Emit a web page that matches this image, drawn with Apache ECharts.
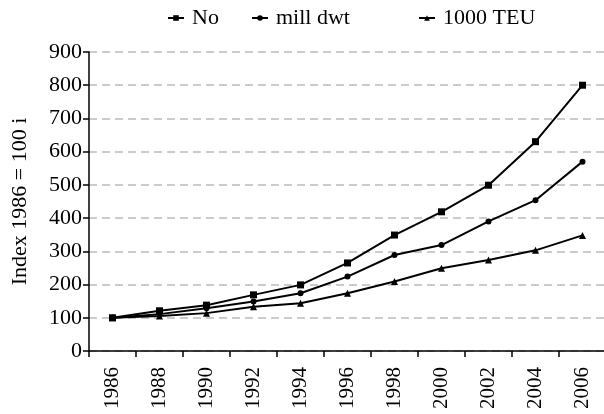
<!DOCTYPE html>
<html><head><meta charset="utf-8">
<script src="https://cdn.jsdelivr.net/npm/echarts@6/dist/echarts.min.js"></script>
<style>html,body{margin:0;padding:0;background:#fff}#c{width:604px;height:414px}</style>
</head><body><div id="c"></div>
<script>
const years = ['1986','1988','1990','1992','1994','1996','1998','2000','2002','2004','2006'];
const seriesNames = ['No','mill dwt','1000 TEU'];
const noValues = [100,121,138,169,199,265,349,419,499,630,800];
const dwtValues = [100,111,129,149,174,224,289,319,390,454,570];
const teuValues = [100,105,114,133,144,174,209,249,274,303,348];
const yTicks = [0,100,200,300,400,500,600,700,800,900];

const font = 'Liberation Serif';
const chart = echarts.init(document.getElementById('c'));
function legend(name, left) {
  return {
    data: [name], left: left, top: 7, padding: 0, itemWidth: 16, itemHeight: 7, itemGap: 6,
    textStyle: {fontFamily: font, fontSize: 22, color: '#000', padding: [0, 0, 0, 3]},
    selectedMode: false
  };
}
function ser(name, data, symbol, size) {
  return {
    name: name, type: 'line', data: data, symbol: symbol, symbolSize: size,
    lineStyle: {color: '#000', width: 2}, itemStyle: {color: '#000'},
    animation: false
  };
}
chart.setOption({
  animation: false,
  legend: [legend(seriesNames[0], 167), legend(seriesNames[1], 251), legend(seriesNames[2], 418)],
  grid: {left: 89, right: -2, top: 52, bottom: 63, containLabel: false, outerBoundsMode: 'none'},
  xAxis: {
    type: 'category', data: years, boundaryGap: true,
    axisLine: {lineStyle: {color: '#000', width: 1.5}},
    axisTick: {show: true, length: 6, lineStyle: {color: '#000', width: 1.5}},
    axisLabel: {rotate: 90, color: '#000', fontFamily: font, fontSize: 21, margin: 16, interval: 0}
  },
  yAxis: {
    type: 'value', min: yTicks[0], max: yTicks[yTicks.length-1], interval: 100,
    name: 'Index 1986 = 100 i', nameLocation: 'middle', nameGap: 58, nameRotate: 90,
    nameTextStyle: {fontFamily: font, fontSize: 22, color: '#000'},
    axisLine: {show: true, lineStyle: {color: '#000', width: 1.5}},
    axisTick: {show: true, length: 6, lineStyle: {color: '#000', width: 1.5}},
    axisLabel: {color: '#000', fontFamily: font, fontSize: 22, margin: 7},
    splitLine: {lineStyle: {color: '#bbb', type: [8, 5], width: 1.5}}
  },
  series: [
    ser(seriesNames[0], noValues, 'rect', 7),
    ser(seriesNames[1], dwtValues, 'circle', 6),
    ser(seriesNames[2], teuValues, 'triangle', 7)
  ]
});
</script></body></html>
